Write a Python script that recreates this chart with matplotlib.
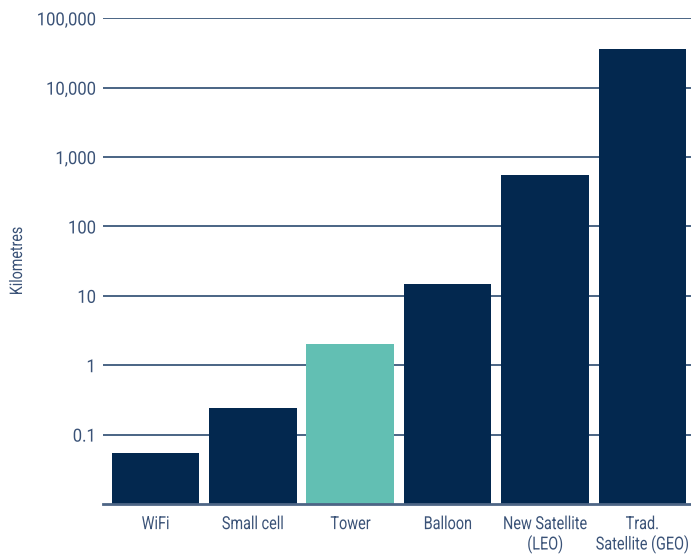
import matplotlib
matplotlib.use("Agg")
import matplotlib.pyplot as plt
from matplotlib.ticker import FixedLocator, NullLocator
from matplotlib.patheffects import AbstractPathEffect
from matplotlib.transforms import Affine2D
from matplotlib.path import Path

plt.rcParams['font.family'] = ['Roboto', 'DejaVu Sans']

categories = ["WiFi", "Small cell", "Tower", "Balloon", "New Satellite\n(LEO)", "Trad.\nSatellite (GEO)"]
distances_km = [0.055, 0.24, 2, 15, 550, 35786]
bar_colors = ["#03284f", "#03284f", "#62bfb3", "#03284f", "#03284f", "#03284f"]
ytick_values = [0.1, 1, 10, 100, 1000, 10000, 100000]
ytick_labels = ["0.1", "1", "10", "100", "1,000", "10,000", "100,000"]

text_color = "#3a5277"
grid_color = "#2b4a70"


class Condensed(AbstractPathEffect):
    """Squeeze glyph outlines horizontally to mimic a condensed typeface."""

    def __init__(self, sx=0.82, anchor="center"):
        super().__init__()
        self.sx = sx
        self.anchor = anchor

    def draw_path(self, renderer, gc, tpath, affine, rgbFace=None):
        v = tpath.vertices
        if tpath.codes is not None:
            v = v[tpath.codes != Path.CLOSEPOLY]
        if len(v):
            xmin, xmax = v[:, 0].min(), v[:, 0].max()
            cx = xmax if self.anchor == "right" else 0.5 * (xmin + xmax)
            squeeze = Affine2D().translate(-cx, 0).scale(self.sx, 1).translate(cx, 0)
            affine = squeeze + affine
        renderer.draw_path(gc, tpath, affine, rgbFace)


fig = plt.figure(figsize=(6.91, 5.54), dpi=100)
ax = fig.add_axes([103 / 691, 1 - 504 / 554, 588 / 691, (504 - 18.3) / 554])

x = list(range(len(categories)))
ax.bar(x, distances_km, width=0.9, color=bar_colors, zorder=3)

ax.set_yscale("log")
ax.set_ylim(0.01, 100000)
ax.set_xlim(-0.54, 5.5)

ax.yaxis.set_major_locator(FixedLocator(ytick_values))
ax.yaxis.set_minor_locator(NullLocator())
ax.set_yticklabels(ytick_labels)
ax.set_xticks(x)
ax.set_xticklabels(categories)

ax.grid(axis="y", color=grid_color, linewidth=1.2, zorder=0)
ax.set_axisbelow(True)

for side in ["top", "right", "left"]:
    ax.spines[side].set_visible(False)
ax.spines["bottom"].set_color("#4d6585")
ax.spines["bottom"].set_linewidth(2)
ax.spines["bottom"].set_zorder(4)

ax.tick_params(axis="y", length=0, pad=5, labelsize=13, labelcolor=text_color)
ax.tick_params(axis="x", length=0, pad=8, labelsize=13, labelcolor=text_color)

for lbl in ax.get_yticklabels():
    lbl.set_path_effects([Condensed(0.92, "right")])
for lbl in ax.get_xticklabels():
    lbl.set_path_effects([Condensed(0.8, "center")])
    lbl.set_linespacing(1.1)

ylab = ax.set_ylabel("Kilometres", color=text_color, fontsize=12.5)
ylab.set_path_effects([Condensed(0.82, "center")])
ax.yaxis.set_label_coords(-78 / 588, 0.5)

fig.savefig("out.png", dpi=100)
